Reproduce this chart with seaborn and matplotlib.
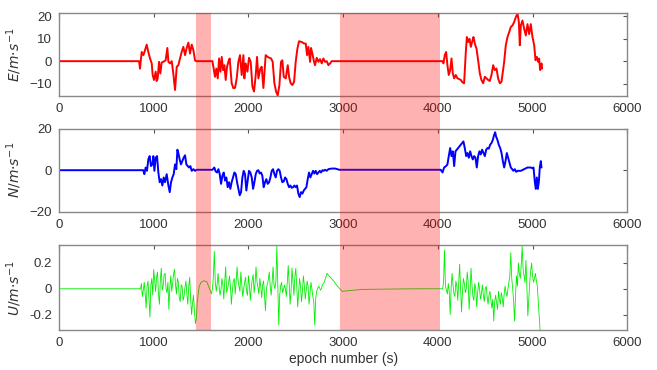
import numpy as np
import pandas as pd
import seaborn as sns
import matplotlib
matplotlib.use("Agg")
import matplotlib.pyplot as plt
import matplotlib.transforms as mtransforms
from matplotlib.patches import Rectangle

# ---- data ----
# shaded outage windows (s)
shade_start = [1447, 2967]
shade_end = [1605, 4023]

# East velocity
e_time = [0, 845, 855, 873, 891, 908, 926, 943, 961, 979, 989, 1003, 1021, 1031, 1042, 1056,
          1070, 1084, 1102, 1126, 1144, 1155, 1172, 1190, 1207, 1225, 1243, 1260, 1278, 1295,
          1313, 1331, 1348, 1366, 1383, 1401, 1419, 1436, 1447, 1620, 1647, 1661, 1676, 1690,
          1704, 1718, 1732, 1746, 1760, 1774, 1788, 1802, 1823, 1841, 1859, 1876, 1894, 1911,
          1929, 1947, 1957, 1971, 1989, 2006, 2024, 2042, 2059, 2077, 2091, 2105, 2126, 2140,
          2158, 2182, 2203, 2221, 2239, 2256, 2274, 2292, 2309, 2327, 2344, 2358, 2373, 2394,
          2415, 2429, 2446, 2464, 2482, 2499, 2517, 2534, 2563, 2587, 2605, 2619, 2633, 2651,
          2661, 2675, 2693, 2703, 2721, 2739, 2756, 2774, 2791, 2809, 2827, 2844, 2862, 2879,
          2900, 4049, 4059, 4073, 4087, 4101, 4115, 4130, 4144, 4158, 4172, 4189, 4207, 4225,
          4242, 4260, 4277, 4295, 4306, 4320, 4334, 4348, 4365, 4376, 4390, 4408, 4425, 4443,
          4460, 4478, 4496, 4513, 4531, 4548, 4566, 4584, 4601, 4619, 4636, 4654, 4672, 4686,
          4700, 4717, 4735, 4753, 4770, 4788, 4805, 4823, 4841, 4855, 4865, 4876, 4893, 4911,
          4929, 4946, 4964, 4981, 4999, 5017, 5031, 5045, 5059, 5069, 5080, 5094, 5101]
e_vel = [0, 0, -3.3, 4.1, 2.7, 4.9, 7.4, 4.1, 1.2, -1.0, -6.2, -8.4, -4.7, -8.9, -7.7, -0.3,
         -5.5, -0.6, -0.3, 0.4, 5.9, -0.3, -1.0, 0, -5.5, -12.9, -2.5, -1.8, 1.2, 4.1,
         6.4, 2.7, 5.9, 8.3, 3.4, 7.4, 4.9, 0.4, 0, 0, -7.0, -3.3, -7.7, 1.2,
         -4.7, 1.9, -4.0, -1.8, -8.4, -2.5, -0.3, 1.2, -9.9, -12.1, -11.9, -7.7, -0.3, 2.7,
         -6.2, 2.7, -7.7, -1.0, -4.7, 1.5, -0.3, -11.4, -13.6, -6.2, 1.9, -7.7, -3.3, -2.5,
         -12.0, 2.7, 1.9, 1.5, 1.2, -0.3, -9.9, -13.6, -15.4, -10.7, -0.3, 0.4, -7.0, -7.7,
         -1.8, -7.0, -9.9, -10.7, -9.2, -0.3, 5.6, 8.9, 8.6, 7.9, 7.9, 2.7, 6.4, -0.3,
         5.9, 3.4, -0.3, -1.8, 1.5, -0.3, 0.9, -1.0, 1.2, -0.3, 0, -1.8, -1.0, 0,
         0, 0, -1.0, 2.7, 4.1, -1.8, -6.2, -4.0, 1.2, -5.5, -7.7, -6.2, -7.7, -8.0,
         -8.4, -9.5, -9.9, 4.1, 10.8, 8.6, 10.0, 6.4, 9.2, 10.8, 7.9, 5.6, 0.4, -5.5,
         -8.4, -9.9, -7.0, -7.7, -8.4, -8.9, -6.2, -1.8, -4.0, -3.3, -7.7, -9.9, -9.2, -4.7,
         -0.3, 7.1, 10.8, 13.0, 15.3, 16.0, 17.5, 19.7, 21.4, 17.5, 7.1, 16.0, 18.2, 14.5,
         11.5, 16.6, 12.1, 16.6, 10.8, 7.1, 0.4, 1.9, -0.3, 1.2, -4.0, -1.0, -3.3]

# North velocity
n_time = [0, 890, 901, 915, 929, 943, 957, 971, 986, 996, 1007, 1021, 1035, 1049, 1063, 1077,
          1091, 1105, 1119, 1137, 1155, 1169, 1183, 1197, 1211, 1225, 1239, 1250, 1260, 1274,
          1288, 1302, 1316, 1331, 1345, 1359, 1373, 1387, 1401, 1419, 1436, 1454, 1620, 1640,
          1654, 1669, 1683, 1697, 1711, 1725, 1739, 1753, 1767, 1781, 1795, 1809, 1823, 1837,
          1852, 1866, 1880, 1894, 1908, 1922, 1936, 1950, 1964, 1978, 1992, 2006, 2020, 2035,
          2049, 2063, 2077, 2091, 2105, 2119, 2133, 2147, 2161, 2175, 2189, 2203, 2218, 2232,
          2246, 2260, 2274, 2288, 2302, 2316, 2330, 2344, 2358, 2373, 2387, 2401, 2415, 2429,
          2443, 2457, 2471, 2485, 2499, 2513, 2527, 2541, 2555, 2570, 2584, 2598, 2612, 2626,
          2640, 2654, 2668, 2682, 2696, 2710, 2725, 2739, 2753, 2767, 2781, 2795, 2809, 2827,
          2844, 2879, 2915, 2960, 4030, 4049, 4066, 4087, 4101, 4115, 4130, 4144, 4158, 4172,
          4186, 4200, 4214, 4228, 4242, 4256, 4270, 4284, 4299, 4313, 4327, 4341, 4355, 4369,
          4383, 4397, 4411, 4425, 4439, 4453, 4467, 4482, 4496, 4510, 4524, 4538, 4552, 4566,
          4580, 4594, 4605, 4615, 4629, 4643, 4658, 4672, 4686, 4700, 4714, 4728, 4742, 4756,
          4770, 4784, 4798, 4812, 4827, 4841, 4876, 4911, 4946, 4981, 4999, 5010, 5024, 5034,
          5045, 5055, 5066, 5076, 5087, 5094]
n_vel = [0, 0, -1.9, 1.3, -0.3, 5.2, 6.8, 2.0, 2.8, 6.8, -0.3, 6.0, 6.8, -1.1, -5.8, -4.3,
         -7.4, -3.5, -5.8, -1.9, -7.4, -10.6, -5.8, -3.5, -1.9, 2.8, 0.5, 9.9, 8.3, 5.2,
         2.8, 4.4, 6.0, 7.2, 2.8, 2.0, 1.3, 2.0, -0.3, 0.5, -0.3, 0.2, 0.2, 1.3,
         -0.6, -1.1, 0.5, -1.9, -6.6, -2.7, -1.1, -5.0, -3.5, -8.2, -5.8, -9.0, -5.8, -3.5,
         -1.1, -1.9, -5.8, -9.0, -12.1, -10.6, -3.5, -0.3, -1.9, -9.8, -5.0, -0.3, -1.1, -3.5,
         -9.0, -5.8, -1.9, -0.3, 0, -1.6, -1.1, -2.7, -8.2, -5.8, -4.3, -6.6, -5.8, -3.5,
         -0.3, 0.5, -1.9, -3.5, -0.3, 0.5, -0.3, -3.5, -5.8, -5.4, -3.5, -4.3, -6.6, -8.2,
         -7.4, -8.5, -8.2, -7.4, -8.2, -7.4, -11.3, -13.0, -10.6, -11.3, -9.8, -9.0, -8.2, -4.3,
         -1.1, -3.5, -1.9, -0.3, -1.6, -0.3, -1.9, -1.1, -0.3, -1.1, 0, -0.3, 0.2, -0.3,
         0.5, 0.8, 0.8, 0.2, 0.2, -1.1, 1.3, 2.0, 2.8, 6.8, 10.7, 6.8, 9.1, 2.0,
         9.1, 9.9, 10.7, 11.5, 12.3, 13.1, 13.9, 10.7, 6.8, 8.3, 6.0, 9.1, 6.8, 5.2,
         6.8, 6.0, 1.3, 6.8, 9.1, 7.6, 9.9, 8.3, 6.8, 9.9, 10.7, 10.4, 12.3, 13.1,
         14.6, 17.0, 18.3, 16.2, 14.6, 12.3, 10.7, 8.3, 4.4, 1.3, 4.4, 8.3, 6.0, 3.5,
         1.3, 0.5, -0.3, 0.5, -0.8, -0.3, -0.3, 0.5, 1.3, 1.3, 0.9, 1.3, -5.8, -9.0,
         -3.5, -9.0, -5.8, 1.3, 4.4, 1.3]

# Up velocity: quiet start, three noisy stretches read every 10 s, smooth parts in between
u_step = 10
u_quiet_t = [0, 850]
u_quiet_v = [0, 0]
u_noise1_t0 = 860
u_noise1 = [0.0, 0.04, -0.06, -0.01, 0.05, -0.04, -0.15, 0.02, 0.06, -0.08,
            -0.22, 0.03, 0.08, -0.05, 0.15, 0.06, -0.02, 0.09, 0.13, -0.04,
            -0.12, 0.07, 0.16, -0.01, 0.02, 0.11, 0.12, 0.0, -0.03, 0.05,
            -0.16, 0.01, 0.10, -0.02, 0.04, 0.12, 0.15, 0.03, -0.04, 0.08,
            0.05, -0.07, -0.10, 0.03, 0.02, -0.09, -0.06, 0.01, 0.06, -0.04,
            -0.12, 0.02, 0.09, -0.08, -0.20, -0.11, -0.05, -0.17, -0.27]
u_arc_t = [1450, 1460, 1480, 1500, 1530, 1560, 1590, 1610]
u_arc_v = [-0.23, -0.10, 0.02, 0.05, 0.062, 0.055, 0.0, -0.04]
u_noise2_t0 = 1620
u_noise2 = [0.0, 0.10, 0.29, 0.05, -0.02, 0.04, 0.12, 0.02, -0.05, -0.01,
            0.08, 0.03, -0.08, 0.06, 0.17, -0.03, 0.0, 0.04, 0.10, 0.02,
            -0.12, -0.02, 0.06, 0.08, -0.04, 0.05, 0.17, 0.07, 0.02, -0.02,
            0.13, 0.04, -0.06, 0.0, 0.05, 0.09, -0.02, -0.05, 0.10, 0.03,
            -0.09, 0.01, 0.07, 0.11, -0.03, 0.04, 0.17, 0.06, 0.01, -0.04,
            0.08, 0.02, -0.07, 0.03, 0.06, -0.06, -0.17, 0.0, 0.04, 0.07,
            0.13, 0.02, -0.05, 0.05, 0.17, 0.03, 0.0, 0.06, 0.33, 0.01,
            -0.28, -0.05, 0.02, 0.05, -0.03, -0.01, 0.03, 0.0, -0.06, 0.05,
            0.18, 0.04, -0.12, -0.02, 0.16, 0.06, -0.05, 0.09, 0.16, 0.02,
            -0.14, -0.03, 0.08, 0.02, -0.10, -0.02, 0.10, 0.03, -0.08, -0.01,
            0.06, 0.02, -0.12, -0.03, 0.05, 0.0, -0.06, -0.10, -0.28, -0.08,
            -0.02, 0.0, 0.02, 0.01, -0.01, 0.0, 0.03, 0.04, 0.05]
u_hump_t = [2830, 2850, 2870, 2900, 2940, 2990, 3050, 3200, 3500, 3800, 4040]
u_hump_v = [0.12, 0.10, 0.085, 0.06, 0.02, -0.02, -0.015, -0.005, -0.002, 0.0, 0.0]
u_noise3_t0 = 4050
u_noise3 = [0.0, 0.05, 0.30, 0.02, -0.01, -0.04, 0.04, -0.02, -0.20, 0.0,
            0.12, 0.03, -0.04, -0.06, 0.06, 0.02, -0.09, 0.05, 0.19, 0.0,
            -0.18, -0.02, 0.08, 0.04, -0.03, 0.0, 0.13, 0.05, -0.16, -0.02,
            0.16, 0.03, -0.06, -0.09, 0.04, 0.0, -0.14, -0.03, 0.05, 0.0,
            -0.08, -0.04, 0.03, -0.05, -0.10, 0.0, 0.02, -0.06, -0.12, -0.05,
            -0.02, -0.09, -0.15, -0.08, -0.25, -0.10, -0.05, -0.11, -0.16, -0.02,
            -0.08, -0.12, -0.03, -0.07, -0.14, -0.04, 0.02, -0.03, -0.06, 0.0,
            0.05, 0.10, 0.28, 0.08, 0.0, -0.10, -0.25, -0.05, 0.10, 0.02,
            0.20, 0.12, 0.08, 0.18, 0.33, 0.15, 0.10, 0.05, 0.22, 0.0,
            -0.21, -0.08, 0.05, 0.14, 0.20, 0.10, 0.05, 0.08, 0.12, 0.06,
            0.02]
u_end_t = [5080]
u_end_v = [-0.33]

x_ticks = [0, 1000, 2000, 3000, 4000, 5000, 6000]

# ---- assemble U ----
u_time = (u_quiet_t
          + list(u_noise1_t0 + u_step * np.arange(len(u_noise1)))
          + u_arc_t
          + list(u_noise2_t0 + u_step * np.arange(len(u_noise2)))
          + u_hump_t
          + list(u_noise3_t0 + u_step * np.arange(len(u_noise3)))
          + u_end_t)
u_vel = u_quiet_v + u_noise1 + u_arc_v + u_noise2 + u_hump_v + u_noise3 + u_end_v

df_e = pd.DataFrame({"t": e_time, "v": e_vel})
df_n = pd.DataFrame({"t": n_time, "v": n_vel})
df_u = pd.DataFrame({"t": u_time, "v": u_vel})

sns.set_style("white")
plt.rcParams["font.family"] = ["Liberation Sans", "DejaVu Sans"]
plt.rcParams["mathtext.fontset"] = "dejavusans"

fig = plt.figure(figsize=(6.57, 3.70), dpi=100)
left, width = 0.0898, 0.865
ax_e = fig.add_axes([left, 0.7405, width, 0.224])
ax_n = fig.add_axes([left, 0.428, width, 0.224])
ax_u = fig.add_axes([left, 0.108, width, 0.230])

sns.lineplot(data=df_e, x="t", y="v", ax=ax_e, color="#ff0000", lw=1.4,
             estimator=None, sort=False)
sns.lineplot(data=df_n, x="t", y="v", ax=ax_n, color="#0000ff", lw=1.4,
             estimator=None, sort=False)
sns.lineplot(data=df_u, x="t", y="v", ax=ax_u, color="#00ee00", lw=0.6,
             estimator=None, sort=False)

ax_e.set_ylim(-15.6, 21.5)
ax_e.set_yticks([-10, 0, 10, 20])
ax_n.set_ylim(-20, 20)
ax_n.set_yticks([-20, 0, 20])
ax_u.set_ylim(-0.32, 0.34)
ax_u.set_yticks([-0.2, 0, 0.2])
ax_u.set_yticklabels(["-0.2", "0", "0.2"])

ylabels = [r"$E/m{\cdot}s^{-1}$", r"$N/m{\cdot}s^{-1}$", r"$U/m{\cdot}s^{-1}$"]
for ax, lab in zip([ax_e, ax_n, ax_u], ylabels):
    ax.set_xlim(0, 6000)
    ax.set_xticks(x_ticks)
    ax.set_xlabel("")
    ax.set_ylabel(lab, fontsize=10, color="#333333", labelpad=4)
    ax.tick_params(direction="in", top=True, right=True, length=3, width=0.8,
                   color="#555555", labelsize=9.5, labelcolor="#333333", pad=5)
    for sp in ax.spines.values():
        sp.set_color("#888888")
        sp.set_linewidth(1.0)

ax_u.set_xlabel("epoch number (s)", fontsize=10, color="#333333", labelpad=2)

# outage bands spanning all three panels
trans = mtransforms.blended_transform_factory(ax_e.transData, fig.transFigure)
for s, e in zip(shade_start, shade_end):
    fig.add_artist(Rectangle((s, 0.108), e - s, 0.9645 - 0.108, transform=trans,
                             facecolor="#ff0000", alpha=0.3, edgecolor="none", zorder=5))

fig.savefig("out.png", dpi=100)
